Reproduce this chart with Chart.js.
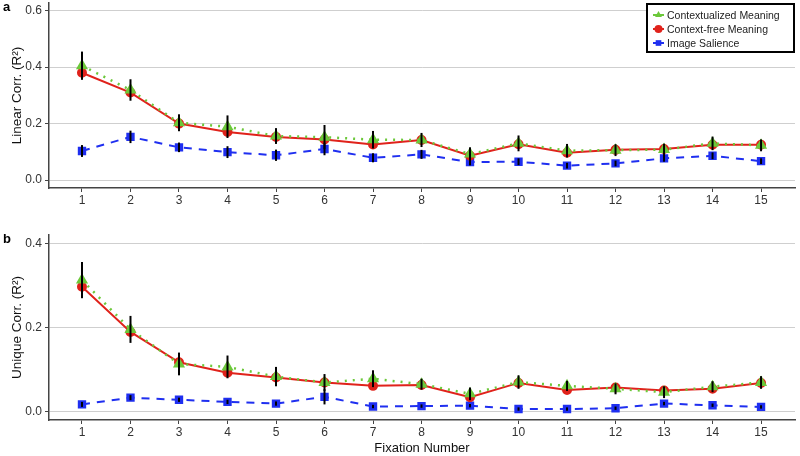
<!DOCTYPE html>
<html>
<head>
<meta charset="utf-8">
<script src="https://cdn.jsdelivr.net/npm/chart.js@4.4.1/dist/chart.umd.min.js"></script>
<style>
    body { margin: 0; background: #fff; width: 800px; height: 456px; position: relative; overflow: hidden; font-family: "Liberation Sans", Arial, sans-serif; }
    #wrapA { position: absolute; left: 0; top: -4px; width: 802px; height: 219px; }
    #wrapB { position: absolute; left: 0; top: 228px; width: 802px; height: 228px; }
    .tag { position: absolute; font-weight: bold; font-size: 13px; color: #000; }
</style>
</head>
<body>
<div id="wrapA"><canvas id="linearChart"></canvas></div>
<div id="wrapB"><canvas id="uniqueChart"></canvas></div>
<div class="tag" style="left:3px;top:-1px">a</div>
<div class="tag" style="left:3px;top:231px">b</div>
<script>
const fixations = [1, 2, 3, 4, 5, 6, 7, 8, 9, 10, 11, 12, 13, 14, 15];
const seriesNames = ['Contextualized Meaning', 'Context-free Meaning', 'Image Salience'];

// panel a: linear correlation
const linCtx    = [0.405, 0.319, 0.203, 0.189, 0.156, 0.152, 0.143, 0.142, 0.092, 0.130, 0.104, 0.106, 0.108, 0.130, 0.123];
const linFree   = [0.380, 0.310, 0.200, 0.170, 0.153, 0.144, 0.126, 0.142, 0.086, 0.127, 0.097, 0.107, 0.110, 0.125, 0.125];
const linSal    = [0.103, 0.153, 0.116, 0.099, 0.088, 0.110, 0.079, 0.091, 0.064, 0.065, 0.051, 0.059, 0.077, 0.086, 0.067];
const linCtxErr = [0.050, 0.038, 0.030, 0.040, 0.028, 0.043, 0.031, 0.025, 0.024, 0.028, 0.024, 0.021, 0.021, 0.024, 0.021];
const linSalErr = [0.021, 0.022, 0.017, 0.021, 0.020, 0.022, 0.016, 0.016, 0.012, 0.012, 0.010, 0.010, 0.012, 0.012, 0.010];
const linTicks  = [0, 0.2, 0.4, 0.6];

// panel b: unique correlation
const uniCtx    = [0.313, 0.196, 0.114, 0.107, 0.084, 0.070, 0.079, 0.066, 0.043, 0.071, 0.062, 0.055, 0.047, 0.060, 0.070];
const uniFree   = [0.297, 0.190, 0.118, 0.093, 0.082, 0.070, 0.062, 0.064, 0.035, 0.069, 0.052, 0.058, 0.051, 0.055, 0.069];
const uniSal    = [0.018, 0.034, 0.029, 0.024, 0.020, 0.036, 0.013, 0.014, 0.015, 0.007, 0.007, 0.009, 0.020, 0.016, 0.012];
const uniCtxErr = [0.043, 0.032, 0.027, 0.027, 0.023, 0.020, 0.020, 0.013, 0.015, 0.016, 0.012, 0.013, 0.014, 0.013, 0.015];
const uniSalErr = [0.006, 0.006, 0.005, 0.005, 0.005, 0.018, 0.004, 0.004, 0.004, 0.004, 0.004, 0.004, 0.004, 0.004, 0.004];
const uniTicks  = [0, 0.2, 0.4];

const GREEN = '#6cc83a';
const RED = '#e0221b';
const BLUE = '#1f2ff0';
const FONT = '"Liberation Sans", Arial, sans-serif';

function pts(vals) {
    return vals.map((v, i) => ({ x: fixations[i], y: v }));
}

function makeDatasets(ctxV, freeV, salV, ctxErr, salErr) {
    return [
        { label: seriesNames[0], data: pts(ctxV), err: ctxErr, borderColor: GREEN, backgroundColor: GREEN,
          borderWidth: 2.5, borderDash: [2, 6], pointStyle: 'triangle', pointRadius: 4.5, tension: 0 },
        { label: seriesNames[1], data: pts(freeV), borderColor: RED, backgroundColor: RED,
          borderWidth: 2, pointStyle: 'circle', pointRadius: 4, tension: 0 },
        { label: seriesNames[2], data: pts(salV), err: salErr, borderColor: BLUE, backgroundColor: BLUE,
          borderWidth: 2, borderDash: [8, 7], pointStyle: 'rect', pointRadius: 4.5, tension: 0 }
    ];
}

// black vertical error bars, drawn through the chart scales
const errorBars = {
    id: 'errorBars',
    afterDatasetsDraw(chart) {
        const c = chart.ctx, xs = chart.scales.x, ys = chart.scales.y;
        c.save();
        c.strokeStyle = '#000';
        c.lineWidth = 2;
        chart.data.datasets.forEach(ds => {
            if (!ds.err) return;
            ds.data.forEach((p, i) => {
                const x = xs.getPixelForValue(p.x);
                c.beginPath();
                c.moveTo(x, ys.getPixelForValue(p.y + ds.err[i]));
                c.lineTo(x, ys.getPixelForValue(p.y - ds.err[i]));
                c.stroke();
            });
        });
        c.restore();
    }
};

// boxed legend in the top-right corner (panel a only)
const boxLegend = {
    id: 'boxLegend',
    afterDraw(chart) {
        if (!chart.options.plugins.boxLegend) return;
        const c = chart.ctx;
        c.save();
        c.fillStyle = '#fff';
        c.fillRect(647, 8, 147, 48);
        c.strokeStyle = '#000';
        c.lineWidth = 2;
        c.strokeRect(647, 8, 147, 48);
        c.font = '10.5px ' + FONT;
        c.textBaseline = 'middle';
        chart.data.datasets.forEach((ds, i) => {
            const y = 19 + i * 14;
            c.strokeStyle = ds.borderColor;
            c.lineWidth = 2;
            c.beginPath(); c.moveTo(653, y); c.lineTo(664, y); c.stroke();
            c.fillStyle = ds.borderColor;
            Chart.helpers.drawPoint(c, { pointStyle: ds.pointStyle, radius: 4, borderWidth: 0, rotation: 0 }, 658.5, y);
            c.fillStyle = '#222';
            c.fillText(ds.label, 667, y + 1);
        });
        c.restore();
    }
};

function makeChart(id, datasets, yMin, yMax, yTicks, yTitle, showXTitle, xHeight, legend) {
    return new Chart(document.getElementById(id), {
        type: 'line',
        data: { datasets: datasets },
        options: {
            responsive: true,
            maintainAspectRatio: false,
            animation: false,
            layout: { padding: { top: 3, right: 5, left: 0, bottom: 0 } },
            plugins: { legend: { display: false }, tooltip: { enabled: false }, boxLegend: legend },
            scales: {
                x: {
                    type: 'linear', min: 0.32, max: 15.7,
                    afterBuildTicks: s => { s.ticks = fixations.map(v => ({ value: v })); },
                    afterFit: s => { s.height = xHeight; s.paddingLeft = 0; s.paddingRight = 0; },
                    grid: { drawOnChartArea: false, drawTicks: true, tickLength: 4, tickColor: '#444' },
                    border: { color: '#444', width: 1.5 },
                    ticks: { color: '#333', font: { family: FONT, size: 12 }, padding: 1, maxRotation: 0 },
                    title: { display: showXTitle, text: 'Fixation Number', color: '#111', font: { family: FONT, size: 13 }, padding: { top: 0, bottom: 0 } }
                },
                y: {
                    min: yMin, max: yMax,
                    afterBuildTicks: s => { s.ticks = yTicks.map(v => ({ value: v })); },
                    afterFit: s => { s.width = 49; s.paddingTop = 0; s.paddingBottom = 0; },
                    grid: { color: '#cfcfcf', lineWidth: 1, tickLength: 4, tickColor: '#444' },
                    border: { color: '#444', width: 1.5 },
                    ticks: { color: '#333', font: { family: FONT, size: 12 }, padding: 3, callback: v => v.toFixed(1) },
                    title: { display: true, text: yTitle, color: '#111', font: { family: FONT, size: 13.5 }, padding: { top: 9, bottom: 0 } }
                }
            }
        },
        plugins: [errorBars, boxLegend]
    });
}

makeChart('linearChart', makeDatasets(linCtx, linFree, linSal, linCtxErr, linSalErr),
    -0.028, 0.627, linTicks, 'Linear Corr. (R²)', false, 27, true);
makeChart('uniqueChart', makeDatasets(uniCtx, uniFree, uniSal, uniCtxErr, uniSalErr),
    -0.019, 0.42, uniTicks, 'Unique Corr. (R²)', true, 36, false);
</script>
</body>
</html>
